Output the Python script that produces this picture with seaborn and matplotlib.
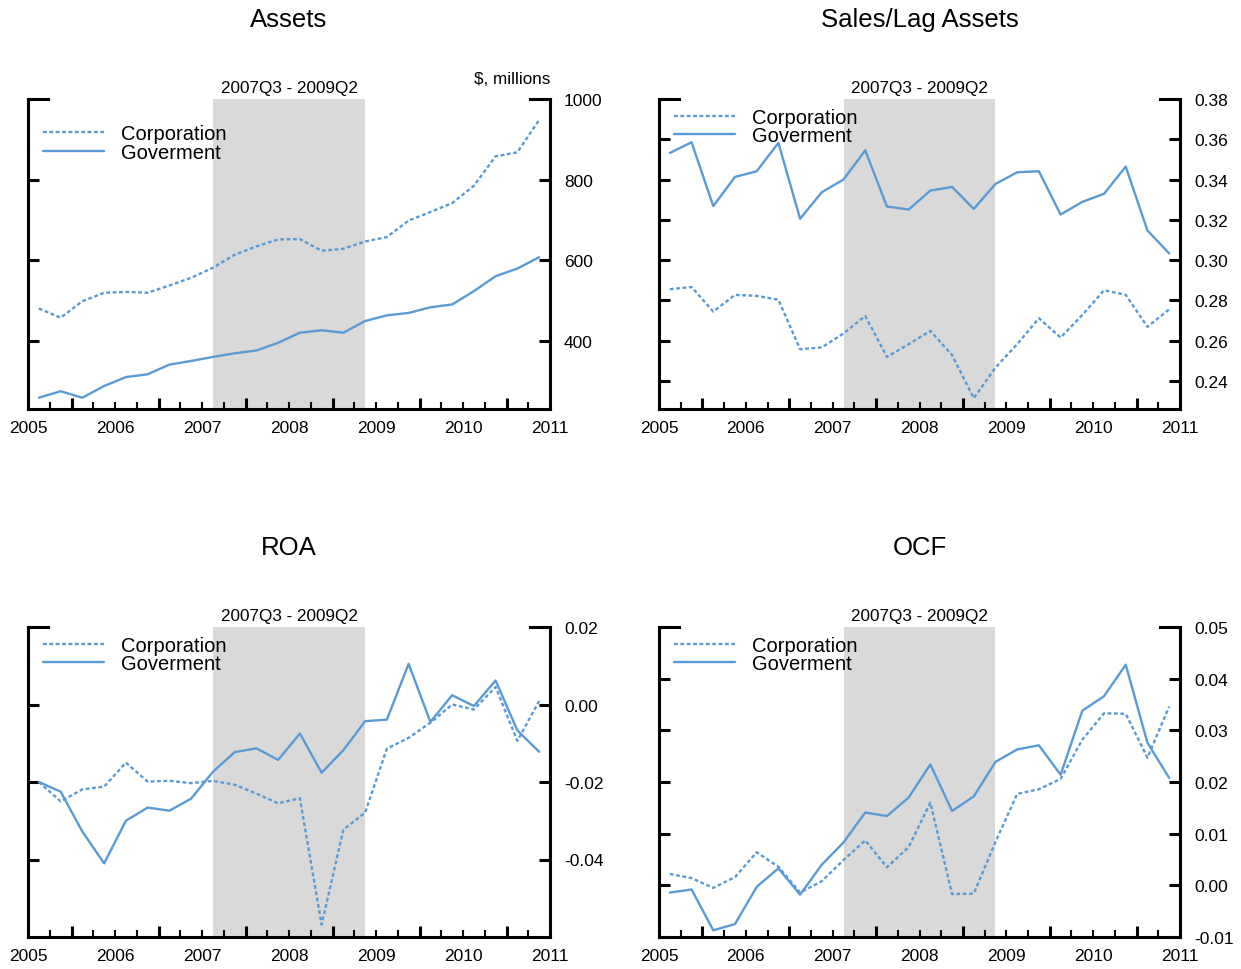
import numpy as np
import pandas as pd
import matplotlib
matplotlib.use("Agg")
import matplotlib.pyplot as plt
import matplotlib.ticker as mticker
import matplotlib.transforms as mtrans
import seaborn as sns

sns.set_style("white")
plt.rcParams["font.family"] = ["Liberation Sans", "DejaVu Sans"]
plt.rcParams["axes.unicode_minus"] = False
plt.rcParams["text.color"] = "black"
plt.rcParams["xtick.color"] = "black"
plt.rcParams["ytick.color"] = "black"
plt.rcParams["xtick.labelcolor"] = "black"
plt.rcParams["ytick.labelcolor"] = "black"

# ---- data (quarterly, 2005Q1 .. 2010Q4, plotted at mid-quarter) ----
quarters = [f"{y}Q{q}" for y in range(2005, 2011) for q in range(1, 5)]
x_pos = [int(s[:4]) + (int(s[-1]) - 1) * 0.25 + 0.125 for s in quarters]

assets_corp = [481, 458, 499, 520, 522, 520, 538, 557, 582, 614, 635, 652,
               653, 624, 629, 647, 658, 699, 720, 742, 785, 858, 868, 948]
assets_gov = [260, 276, 260, 289, 311, 318, 342, 351, 361, 370, 377, 396,
              421, 427, 421, 450, 464, 470, 484, 491, 524, 561, 580, 608]

sales_corp = [0.2855, 0.2866, 0.2744, 0.2827, 0.2822, 0.2803, 0.2557, 0.2566,
              0.2635, 0.2722, 0.2519, 0.2582, 0.2648, 0.2528, 0.2314, 0.2466,
              0.2582, 0.2711, 0.2615, 0.2727, 0.2850, 0.2827, 0.2668, 0.2755]
sales_gov = [0.3532, 0.3585, 0.3268, 0.3413, 0.3441, 0.3582, 0.3205, 0.3337,
             0.3400, 0.3545, 0.3266, 0.3251, 0.3345, 0.3363, 0.3254, 0.3378,
             0.3436, 0.3441, 0.3226, 0.3289, 0.3329, 0.3464, 0.3147, 0.3033]

roa_corp = [-0.0200, -0.0250, -0.0219, -0.0212, -0.0150, -0.0199, -0.0197, -0.0203,
            -0.0197, -0.0207, -0.0230, -0.0255, -0.0242, -0.0568, -0.0323, -0.0279,
            -0.0114, -0.0086, -0.0047, 0.0000, -0.0013, 0.0045, -0.0094, 0.0009]
roa_gov = [-0.0200, -0.0225, -0.0328, -0.0410, -0.0300, -0.0266, -0.0274, -0.0243,
           -0.0174, -0.0123, -0.0113, -0.0143, -0.0075, -0.0176, -0.0118, -0.0043,
           -0.0039, 0.0105, -0.0045, 0.0024, -0.0004, 0.0062, -0.0067, -0.0122]

ocf_corp = [0.0022, 0.0014, -0.0005, 0.0016, 0.0064, 0.0036, -0.0014, 0.0008,
            0.0049, 0.0087, 0.0035, 0.0074, 0.0160, -0.0017, -0.0016, 0.0084,
            0.0177, 0.0186, 0.0206, 0.0282, 0.0333, 0.0332, 0.0247, 0.0346]
ocf_gov = [-0.0014, -0.0008, -0.0087, -0.0075, -0.0003, 0.0033, -0.0018, 0.0040,
           0.0083, 0.0141, 0.0134, 0.0170, 0.0234, 0.0144, 0.0172, 0.0239,
           0.0263, 0.0271, 0.0214, 0.0338, 0.0366, 0.0427, 0.0276, 0.0208]

series_names = ["Corporation", "Goverment"]
titles = ["Assets", "Sales/Lag Assets", "ROA", "OCF"]
recession_label = "2007Q3 - 2009Q2"
recession_span = (2007.125, 2008.875)
year_labels = [2005, 2006, 2007, 2008, 2009, 2010, 2011]

panels = [
    (assets_corp, assets_gov, (232, 1000), [400, 600, 800, 1000], "{:.0f}"),
    (sales_corp, sales_gov, (0.226, 0.38), [0.24, 0.26, 0.28, 0.30, 0.32, 0.34, 0.36, 0.38], "{:.2f}"),
    (roa_corp, roa_gov, (-0.06, 0.02), [-0.04, -0.02, 0.00, 0.02], "{:.2f}"),
    (ocf_corp, ocf_gov, (-0.01, 0.05), [-0.01, 0.00, 0.01, 0.02, 0.03, 0.04, 0.05], "{:.2f}"),
]

BLUE = "#5B9BD5"
W, H = 1241, 970
fig = plt.figure(figsize=(W / 100, H / 100), dpi=100)

boxes = [(28, 100, 550, 410), (659, 100, 1180, 410),
         (28, 628, 550, 938), (659, 628, 1180, 938)]
legend_y = [0.918, 0.972, 0.972, 0.972]

for k, (corp, gov, ylim, yticks, fmt) in enumerate(panels):
    l, t, r, b = boxes[k]
    ax = fig.add_axes([l / W, 1 - b / H, (r - l) / W, (b - t) / H])
    df = pd.DataFrame({
        "x": x_pos * 2,
        "value": list(corp) + list(gov),
        "series": [series_names[0]] * len(corp) + [series_names[1]] * len(gov),
    })
    ax.axvspan(*recession_span, color="#D9D9D9", lw=0, zorder=0)
    sns.lineplot(data=df, x="x", y="value", style="series", style_order=series_names,
                 dashes={series_names[0]: (1.6, 1.1), series_names[1]: ""},
                 color=BLUE, linewidth=1.7, ax=ax, legend=False, zorder=3)
    ax.set_xlim(2005, 2011)
    ax.set_ylim(*ylim)
    ax.set_xlabel("")
    ax.set_ylabel("")

    for s in ["left", "right", "bottom"]:
        ax.spines[s].set_visible(True)
        ax.spines[s].set_linewidth(2.2)
        ax.spines[s].set_color("black")
    ax.spines["top"].set_visible(False)

    ax.yaxis.set_major_locator(mticker.FixedLocator(yticks))
    ax.yaxis.set_major_formatter(mticker.FuncFormatter(lambda v, p, f=fmt: f.format(v)))
    ax.tick_params(axis="y", which="major", direction="in", left=True, right=True,
                   labelleft=False, labelright=True, length=8, width=2.2,
                   labelsize=12.5, pad=10, color="black", labelcolor="black")

    half_years = [y + 0.5 for y in range(2005, 2011)]
    quarter_ticks = [y + q for y in range(2005, 2012) for q in (0.0, 0.25, 0.75)
                     if y + q <= 2011]
    ax.xaxis.set_major_locator(mticker.FixedLocator(half_years))
    ax.xaxis.set_major_formatter(mticker.NullFormatter())
    ax.xaxis.set_minor_locator(mticker.FixedLocator(quarter_ticks))
    ax.xaxis.set_minor_formatter(mticker.FuncFormatter(
        lambda v, p: str(int(round(v))) if abs(v - round(v)) < 1e-6 and int(round(v)) in year_labels else ""))
    ax.tick_params(axis="x", which="major", direction="in", bottom=True, top=False,
                   length=8, width=2.2, color="black")
    ax.tick_params(axis="x", which="minor", direction="in", bottom=True, top=False,
                   length=5, width=1.5, labelsize=12.5, pad=8, color="black",
                   labelcolor="black")
    ax.grid(False)

    ax.plot([0, 0.038], [1, 1], transform=ax.transAxes, color="black", lw=2.2,
            clip_on=False, solid_capstyle="projecting", zorder=5)
    ax.plot([0.962, 1], [1, 1], transform=ax.transAxes, color="black", lw=2.2,
            clip_on=False, solid_capstyle="projecting", zorder=5)

    trans = mtrans.blended_transform_factory(ax.transData, ax.transAxes)
    ax.text(sum(recession_span) / 2, 1.012, recession_label, transform=trans,
            ha="center", va="bottom", fontsize=12.3, color="black")

    if k == 0:
        ax.text(1.0, 1.065, "$, millions", transform=ax.transAxes, ha="right",
                va="center", fontsize=12.3, color="black")

    handles = ax.get_lines()[:2]
    leg = ax.legend(handles, series_names, loc="upper left",
                    bbox_to_anchor=(0.029, legend_y[k]),
                    frameon=False, fontsize=14.5, handlelength=3.0, handletextpad=0.85,
                    labelspacing=-0.03, borderpad=0, borderaxespad=0)
    for txt in leg.get_texts():
        txt.set_color("black")

    fig.text(((l + r) / 2) / W, 1 - (t - 80) / H, titles[k], ha="center",
             va="center", fontsize=18.5, color="black")

fig.savefig("out.png", dpi=100)
